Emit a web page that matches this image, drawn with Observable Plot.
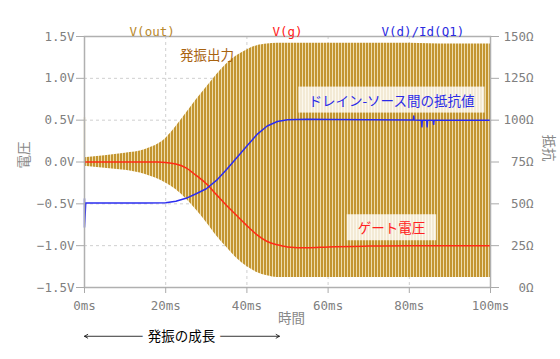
<!DOCTYPE html>
<html><head><meta charset="utf-8">
<script src="https://cdn.jsdelivr.net/npm/d3@7"></script>
<script src="https://cdn.jsdelivr.net/npm/@observablehq/plot@0.6"></script>
<style>html,body{margin:0;padding:0;background:#fff;}svg{display:block}</style>
</head><body>
<script>
// ---- data ----
// V(out) oscillation envelope (ms, V)
const envT  = [0, 5, 10, 15, 20, 22.5, 25, 27.5, 30, 32.5, 35, 37.5, 40, 42.5, 45, 47.5, 50, 60, 70, 80, 90, 100];
const envHi = [0.05, 0.075, 0.105, 0.15, 0.28, 0.42, 0.58, 0.74, 0.89, 1.04, 1.17, 1.27, 1.34, 1.39, 1.41, 1.42, 1.42, 1.42, 1.42, 1.42, 1.41, 1.41];
const envLo = [-0.05, -0.075, -0.10, -0.15, -0.25, -0.33, -0.44, -0.57, -0.72, -0.88, -1.02, -1.15, -1.25, -1.32, -1.36, -1.38, -1.38, -1.38, -1.38, -1.38, -1.38, -1.38];
const outSpike = [0, 0.53]; // initial transient at t=0 (V)
// V(g) gate voltage (ms, V)
const gT = [0, 10, 18, 20, 22.5, 25, 27.5, 30, 32.5, 35, 37.5, 40, 42.5, 45, 47.5, 50, 55, 60, 70, 80, 100];
const gV = [0, 0, 0, -0.005, -0.025, -0.07, -0.16, -0.26, -0.39, -0.52, -0.64, -0.76, -0.87, -0.95, -0.99, -1.015, -1.025, -1.015, -1.005, -1.0, -1.0];
// V(d)/Id(Q1) resistance (ms, ohm)
const rT = [0, 0, 0.3, 15, 20, 22.5, 25, 27.5, 30, 32.5, 35, 37.5, 40, 42.5, 45, 47.5, 50, 55, 60, 80, 81, 81.1, 81.2, 83, 83.1, 83.2, 84.3, 84.4, 84.5, 85.9, 86, 86.1, 100];
const rR = [53, 36, 50.5, 50.5, 50.7, 51.5, 53.3, 56, 59, 64, 70.5, 77.5, 84.5, 91.5, 96.5, 99.2, 100.3, 100.6, 100.4, 100.1, 100.1, 102.5, 100.1, 100, 96, 100, 100, 96, 100, 100, 97.5, 100, 100];
// axes
const xTicks = [0, 20, 40, 60, 80, 100];
const vTicks = [-1.5, -1.0, -0.5, 0, 0.5, 1.0, 1.5];
const seriesNames = ["V(out)", "V(g)", "V(d)/Id(Q1)"];

// ---- build ----
const gold = "#c39530", red = "#ff2a16", blue = "#2a2cf0";
const env = envT.map((t, i) => ({t, hi: envHi[i], lo: envLo[i]}));
const gate = gT.map((t, i) => ({t, v: gV[i]}));
const res = rT.map((t, i) => ({t, r: rR[i]}));
const ohmToV = r => r / 50 - 1.5;
const fmtV = d3.format(".1f");
const jp = "'Noto Sans CJK JP', sans-serif";

const chart = Plot.plot({
  width: 560, height: 359,
  marginLeft: 84, marginRight: 70, marginTop: 36, marginBottom: 72,
  x: {domain: [0, 100]},
  y: {domain: [-1.5, 1.5]},
  style: {fontFamily: "'DejaVu Sans Mono', monospace", fontSize: "12.5px", background: "white", overflow: "visible"},
  marks: [
    Plot.gridX(xTicks.slice(1, -1), {stroke: "#cfcfcf", strokeOpacity: 1, strokeDasharray: "3,3"}),
    Plot.gridY(vTicks.slice(1, -1), {stroke: "#cfcfcf", strokeOpacity: 1, strokeDasharray: "3,3"}),
    Plot.areaY(env, {x: "t", y1: "lo", y2: "hi", fill: "url(#osc)", curve: "monotone-x"}),
    Plot.ruleX([0], {y1: outSpike[0], y2: outSpike[1], stroke: gold, strokeWidth: 1.2}),
    Plot.line(gate, {x: "t", y: "v", stroke: red, strokeWidth: 1.5, curve: "monotone-x"}),
    Plot.line(res, {x: "t", y: d => ohmToV(d.r), stroke: blue, strokeWidth: 1.5}),
    Plot.frame({stroke: "#b0b0b0", strokeWidth: 1.5}),
    Plot.axisX(xTicks, {tickFormat: d => d + "ms", tickSize: 6, tickPadding: 8, stroke: "#aaa", fill: "#808080", label: null}),
    Plot.axisY(vTicks, {anchor: "left", tickFormat: d => fmtV(d) + "V", tickSize: 8, tickPadding: 2, stroke: "#aaa", fill: "#808080", label: null}),
    Plot.axisY(vTicks, {anchor: "right", tickFormat: d => Math.round((d + 1.5) * 50) + "Ω", tickSize: 8, tickPadding: 35, textAnchor: "end", stroke: "#aaa", fill: "#808080", label: null}),
    // series names above the frame
    Plot.text([seriesNames[0]], {x: 100 / 6, frameAnchor: "top", dy: -9, fill: "#b8882c"}),
    Plot.text([seriesNames[1]], {x: 50, frameAnchor: "top", dy: -9, fill: "#ff2020"}),
    Plot.text([seriesNames[2]], {x: 500 / 6, frameAnchor: "top", dy: -9, fill: "#2b2be0"}),
    // axis titles
    Plot.text(["電圧"], {x: -14.8, y: 0.083, rotate: -90, fill: "#888", fontFamily: jp, fontSize: 13.5}),
    Plot.text(["抵抗"], {x: 114.3, y: 0.167, rotate: 90, fill: "#888", fontFamily: jp, fontSize: 13.5}),
    Plot.text(["時間"], {x: 51, y: -1.87, fill: "#888", fontFamily: jp, fontSize: 13.5}),
    // annotations
    Plot.text(["発振出力"], {x: 30.2, y: 1.27, fill: "#a8620f", fontFamily: jp, fontSize: 13.5}),
    Plot.text(["ドレイン-ソース間の抵抗値"], {x: 75.6, y: 0.726, fill: "#2b2be8", fontFamily: jp, fontSize: 13.5}),
    Plot.text(["ゲート電圧"], {x: 75.6, y: -0.8, fill: "#ff2020", fontFamily: jp, fontSize: 13.5}),
    // growth arrow
    Plot.arrow([{a: 23.9, b: 0}, {a: 23.9, b: 48}], {x1: "a", x2: "b", y1: -2.083, y2: -2.083, stroke: "black", strokeWidth: 0.8, headLength: 7}),
    Plot.text(["発振の成長"], {x: 23.9, y: -2.083, fill: "black", stroke: "white", strokeWidth: 11, fontFamily: jp, fontSize: 13.5})
  ]
});
document.body.append(chart);

// stripe pattern for the dense oscillation
const ns = "http://www.w3.org/2000/svg";
const defs = document.createElementNS(ns, "defs");
defs.innerHTML = `<pattern id="osc" patternUnits="userSpaceOnUse" x="84" y="0" width="3" height="20">
  <rect width="3" height="20" fill="#eddcab"/><rect width="2" height="20" fill="${gold}"/></pattern>`;
chart.insertBefore(defs, chart.firstChild);

// translucent boxes behind the labels on the plot
const boxed = {"ドレイン-ソース間の抵抗値": 10, "ゲート電圧": 11};
chart.querySelectorAll("text").forEach(t => {
  const pad = boxed[t.textContent];
  if (pad === undefined) return;
  const b = t.getBBox();
  const r = document.createElementNS(ns, "rect");
  r.setAttribute("x", b.x - pad); r.setAttribute("y", b.y - 3);
  r.setAttribute("width", b.width + 2 * pad); r.setAttribute("height", b.height + 6);
  r.setAttribute("fill", "white"); r.setAttribute("fill-opacity", "0.8");
  if (t.getAttribute("transform")) r.setAttribute("transform", t.getAttribute("transform"));
  t.parentNode.insertBefore(r, t);
});
</script>
</body></html>
